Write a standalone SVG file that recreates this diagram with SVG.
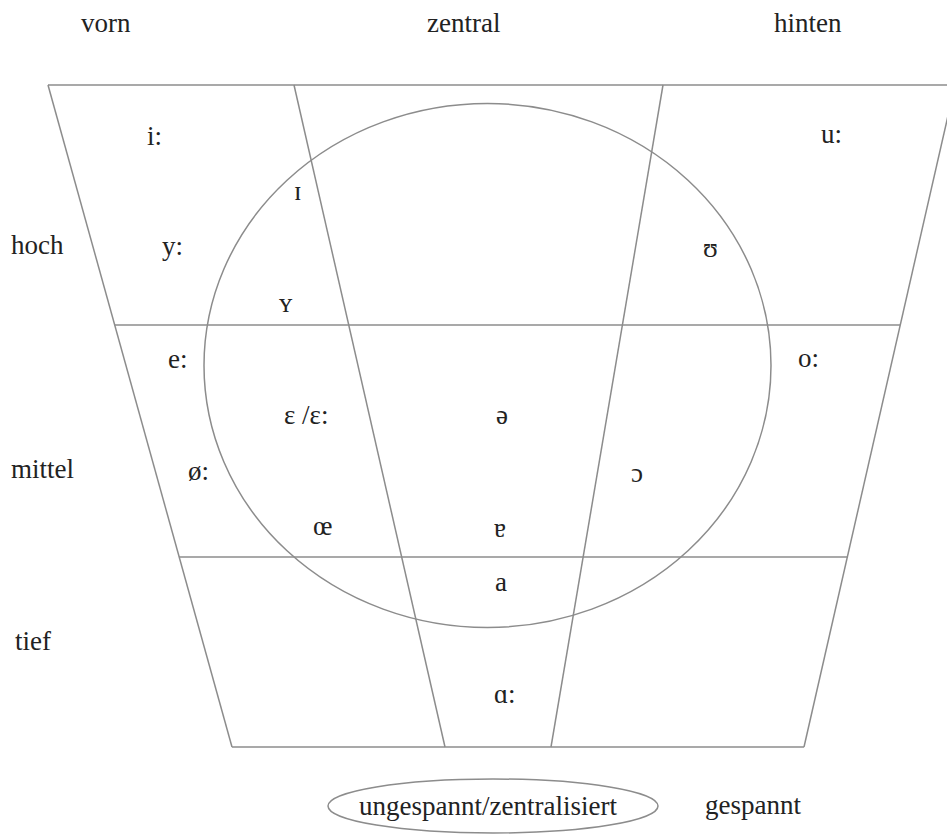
<svg xmlns="http://www.w3.org/2000/svg" width="947" height="834" viewBox="0 0 947 834">
<style>
.ln{stroke:#8c8c8c;stroke-width:1.5;fill:none}
.t{font-family:"Liberation Serif","DejaVu Serif",serif;font-size:27px;fill:#222}
</style>
<rect width="947" height="834" fill="#fff"/>
<g id="grid">
<line class="ln" x1="48" y1="85" x2="947" y2="85"/>
<line class="ln" x1="48" y1="85" x2="232" y2="747"/>
<line class="ln" x1="955" y1="85" x2="804" y2="747"/>
<line class="ln" x1="294" y1="85" x2="445" y2="747"/>
<line class="ln" x1="663" y1="85" x2="551" y2="747"/>
<line class="ln" x1="115" y1="325" x2="900" y2="325"/>
<line class="ln" x1="179" y1="557" x2="848" y2="557"/>
<line class="ln" x1="232" y1="747" x2="804" y2="747"/>
</g>
<g id="circle">
<ellipse class="ln" cx="487.5" cy="365.5" rx="283.5" ry="262"/>
</g>
<g id="axis-labels">
<text class="t" x="81" y="32">vorn</text>
<text class="t" x="427" y="32">zentral</text>
<text class="t" x="774" y="32">hinten</text>
<text class="t" x="11" y="254">hoch</text>
<text class="t" x="11" y="478">mittel</text>
<text class="t" x="15" y="650">tief</text>
</g>
<g id="vowels">
<text class="t" x="147" y="145">i:</text>
<text class="t" x="294" y="200">ɪ</text>
<text class="t" x="162" y="255">y:</text>
<text class="t" x="279" y="312">ʏ</text>
<text class="t" x="168" y="368">e:</text>
<text class="t" x="284" y="424">ɛ /ɛ:</text>
<text class="t" x="496" y="424">ə</text>
<text class="t" x="188" y="480">ø:</text>
<text class="t" x="313" y="535">œ</text>
<text class="t" x="494" y="537">ɐ</text>
<text class="t" x="495" y="591">a</text>
<text class="t" x="494" y="703">ɑ:</text>
<text class="t" x="631" y="482">ɔ</text>
<text class="t" x="703" y="257">ʊ</text>
<text class="t" x="821" y="143">u:</text>
<text class="t" x="798" y="367">o:</text>
</g>
<g id="legend">
<ellipse class="ln" cx="493" cy="806" rx="165" ry="27"/>
<text class="t" x="359" y="815">ungespannt/zentralisiert</text>
<text class="t" x="705" y="814">gespannt</text>
</g>
</svg>
